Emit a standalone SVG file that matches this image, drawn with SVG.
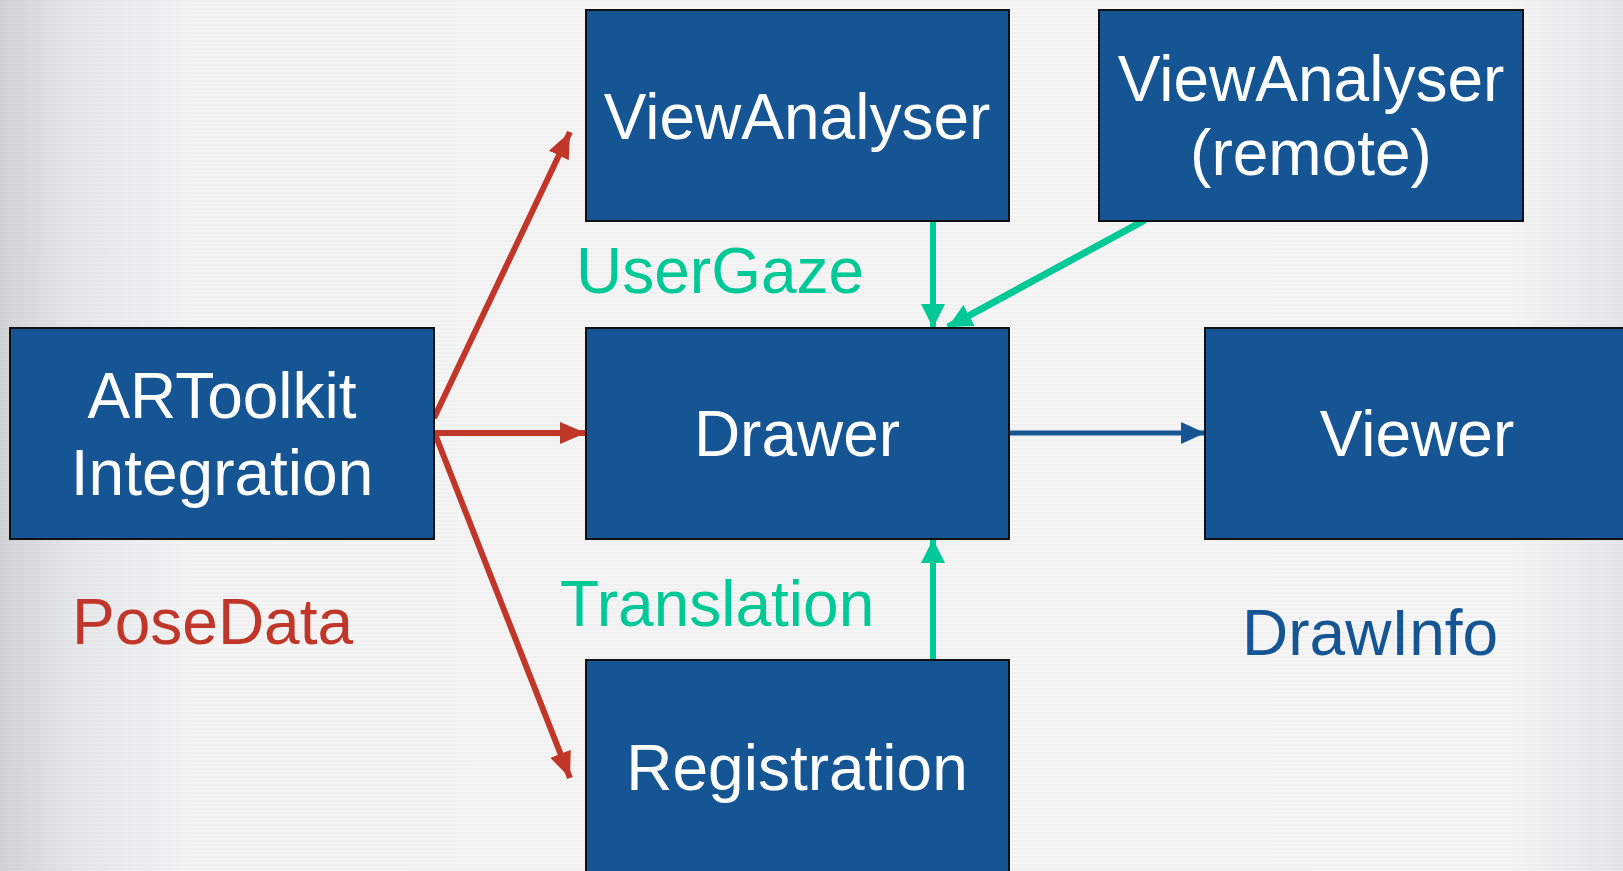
<svg xmlns="http://www.w3.org/2000/svg" width="1623" height="871" viewBox="0 0 1623 871">
<defs>
<linearGradient id="bg" x1="0" y1="0" x2="1" y2="0">
<stop offset="0" stop-color="#d2d4d8"/>
<stop offset="0.05" stop-color="#e8e9eb"/>
<stop offset="0.12" stop-color="#f5f5f6"/>
<stop offset="0.93" stop-color="#f6f6f6"/>
<stop offset="1" stop-color="#e6e7e9"/>
</linearGradient>
<pattern id="stripes" width="8" height="4" patternUnits="userSpaceOnUse">
<rect width="8" height="2" fill="#000" opacity="0.02"/>
</pattern>
<marker id="mRed" markerUnits="userSpaceOnUse" markerWidth="28" markerHeight="24" refX="26" refY="12" orient="auto">
<path d="M0,1 L26,12 L0,23 Z" fill="#c0372a"/>
</marker>
<marker id="mGreen" markerUnits="userSpaceOnUse" markerWidth="26" markerHeight="26" refX="24" refY="12" orient="auto">
<path d="M0,0 L24,12 L0,24 Z" fill="#00c896"/>
</marker>
<marker id="mBlue" markerUnits="userSpaceOnUse" markerWidth="26" markerHeight="24" refX="24" refY="11" orient="auto">
<path d="M0,0 L24,11 L0,22 Z" fill="#155594"/>
</marker>
</defs>
<style>
.box{fill:#155594;stroke:#111;stroke-width:2}
.bt{font-family:"Liberation Sans",Arial,sans-serif;font-size:64px;fill:#fff;text-anchor:middle}
.lbl{font-family:"Liberation Sans",Arial,sans-serif;font-size:64px}
.red{stroke:#c0372a;stroke-width:6;fill:none}
.green{stroke:#00c896;stroke-width:6;fill:none}
.blue{stroke:#155594;stroke-width:5;fill:none}
</style>
<rect width="1623" height="871" fill="url(#bg)"/>
<rect width="1623" height="871" fill="url(#stripes)"/>

<g id="connectors">
<line class="red" x1="434" y1="418" x2="570" y2="132" marker-end="url(#mRed)"/>
<line class="red" x1="434" y1="433" x2="586" y2="433" marker-end="url(#mRed)"/>
<line class="red" x1="435" y1="434" x2="570" y2="778" marker-end="url(#mRed)"/>
<line class="green" x1="933" y1="221" x2="933" y2="328" marker-end="url(#mGreen)"/>
<line class="green" style="stroke-width:7" x1="1145" y1="220" x2="948" y2="327" marker-end="url(#mGreen)"/>
<line class="green" x1="933" y1="660" x2="933" y2="539" marker-end="url(#mGreen)"/>
<line class="blue" x1="1009" y1="433" x2="1205" y2="433" marker-end="url(#mBlue)"/>
</g>

<g id="artoolkit">
<rect class="box" x="10" y="328" width="424" height="211"/>
<text class="bt" x="222" y="418">ARToolkit</text>
<text class="bt" x="222" y="495">Integration</text>
</g>
<g id="viewanalyser">
<rect class="box" x="586" y="10" width="423" height="211"/>
<text class="bt" x="797" y="139">ViewAnalyser</text>
</g>
<g id="viewanalyser-remote">
<rect class="box" x="1099" y="10" width="424" height="211"/>
<text class="bt" x="1311" y="101">ViewAnalyser</text>
<text class="bt" x="1311" y="175">(remote)</text>
</g>
<g id="drawer">
<rect class="box" x="586" y="328" width="423" height="211"/>
<text class="bt" x="797" y="456">Drawer</text>
</g>
<g id="viewer">
<rect class="box" x="1205" y="328" width="430" height="211"/>
<text class="bt" x="1417" y="456">Viewer</text>
</g>
<g id="registration">
<rect class="box" x="586" y="660" width="423" height="220"/>
<text class="bt" x="797" y="790">Registration</text>
</g>

<g id="labels">
<text class="lbl" x="576" y="293" fill="#00c896">UserGaze</text>
<text class="lbl" x="560" y="626" fill="#00c896">Translation</text>
<text class="lbl" x="72" y="644" fill="#c0372a">PoseData</text>
<text class="lbl" x="1242" y="655" fill="#155594">DrawInfo</text>
</g>
</svg>
